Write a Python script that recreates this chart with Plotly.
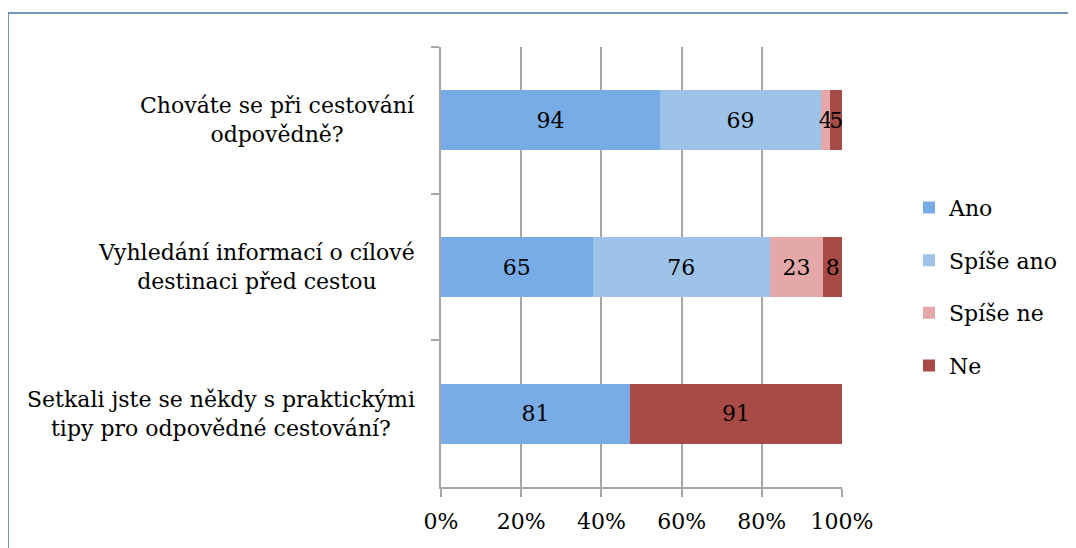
import plotly.graph_objects as go

categories = ["Chováte se při cestování<br>odpovědně?",
              "Vyhledání informací o cílové<br>destinaci před cestou",
              "Setkali jste se někdy s praktickými<br>tipy pro odpovědné cestování?"]
series_names = ["Ano", "Spíše ano", "Spíše ne", "Ne"]
ano = [94, 65, 81]
spise_ano = [69, 76, 0]
spise_ne = [4, 23, 0]
ne = [5, 8, 91]
x_ticks = [0, 20, 40, 60, 80, 100]
x_tick_labels = ["0%", "20%", "40%", "60%", "80%", "100%"]

colors = ["#78ace6", "#9ec3e9", "#e3a8a7", "#a84b46"]
FONT = "DejaVu Serif"
FS = 22

series = [ano, spise_ano, spise_ne, ne]
totals = [sum(v) for v in zip(*series)]

fig = go.Figure()
for i, (name, vals) in enumerate(zip(series_names, series)):
    pct = [v / t * 100 for v, t in zip(vals, totals)]
    fig.add_trace(go.Bar(
        y=categories, x=pct, orientation="h", name=name,
        marker=dict(color=colors[i], line=dict(width=0)),
        text=[str(v) if v else "" for v in vals],
        textposition="inside", insidetextanchor="middle",
        textfont=dict(family=FONT, size=FS, color="black"),
        cliponaxis=False, legendgroup=name,
        hoverinfo="skip",
    ))

# page offset of 8px (body margin) compensated
OFF = 8
L, R, T, B = 441 - OFF, 842 - OFF, 47 - OFF, 487 - OFF
W, H = 1076 - OFF, 548 - OFF

for c in categories:
    fig.add_annotation(x=-(441 - 417) / (R - L), xref="paper", y=c, yref="y",
                       text=c, showarrow=False, xanchor="right", align="center",
                       font=dict(family=FONT, size=FS, color="black"))

# chart border (top and left visible)
bx = (8 - 441) / (R - L)
by = 1 + (47 - 13) / (B - T)
fig.add_shape(type="line", xref="paper", yref="paper", x0=bx, x1=bx, y0=by, y1=-0.5,
              line=dict(color="#4a72a8", width=1.5))
fig.add_shape(type="line", xref="paper", yref="paper", x0=bx, x1=2, y0=by, y1=by,
              line=dict(color="#4a72a8", width=1.5))

fig.update_layout(
    width=W, height=H,
    margin=dict(l=L, r=W - R, t=T, b=H - B),
    barmode="stack", bargap=0.59,
    plot_bgcolor="white", paper_bgcolor="white",
    font=dict(family=FONT, size=FS, color="black"),
    uniformtext=dict(mode="show", minsize=FS),
    showlegend=True,
    legend=dict(x=(909 - 441) / (R - L), xanchor="left", y=0.455, yanchor="middle",
                traceorder="grouped", tracegroupgap=21,
                font=dict(family=FONT, size=FS), itemwidth=30),
    xaxis=dict(range=[0, 100], tickvals=x_ticks, ticktext=x_tick_labels,
               showgrid=True, gridcolor="#a6a6a6", gridwidth=1.5,
               showline=True, linecolor="#a6a6a6", linewidth=1.5,
               ticks="outside", ticklen=8, tickcolor="#a6a6a6", tickwidth=1.5,
               ticklabelstandoff=6, zeroline=False, fixedrange=True),
    yaxis=dict(autorange="reversed", showticklabels=False,
               showline=True, linecolor="#a6a6a6", linewidth=1.5,
               ticks="outside", ticklen=8, tickcolor="#a6a6a6", tickwidth=1.5,
               tickson="boundaries", showgrid=False, fixedrange=True),
)

fig.write_html("out.html")
